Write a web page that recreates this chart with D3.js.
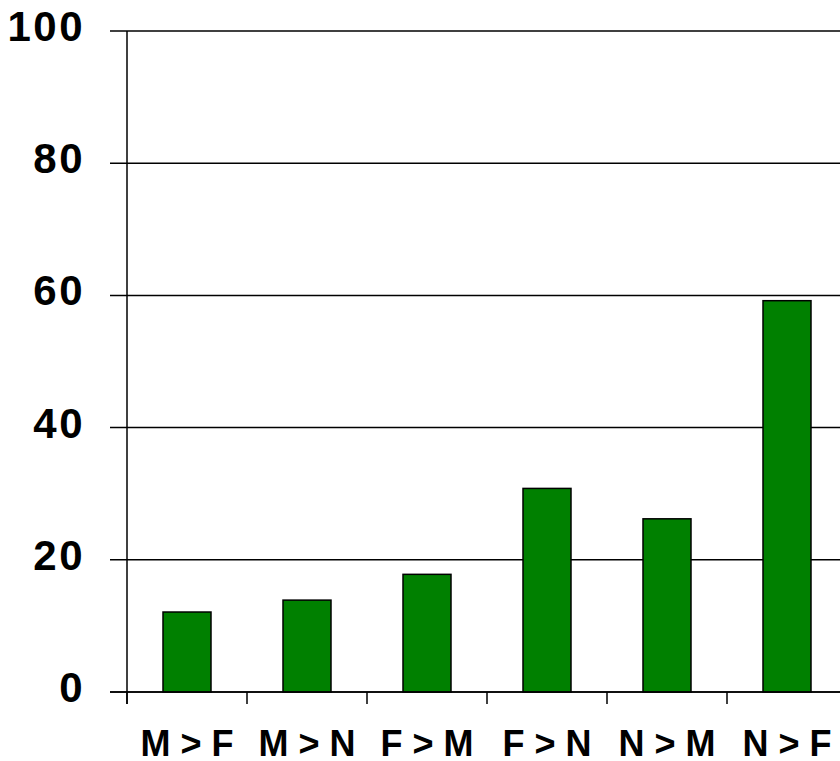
<!DOCTYPE html>
<html>
<head>
<meta charset="utf-8">
<script src="https://cdn.jsdelivr.net/npm/d3@7"></script>
<style>
  html, body { margin: 0; padding: 0; background: #fff; }
  svg { display: block; }
  text { font-family: "Liberation Sans", Arial, sans-serif; font-weight: bold; fill: #000; }
</style>
</head>
<body>
<script>
const categories = ["M > F", "M > N", "F > M", "F > N", "N > M", "N > F"];
const values = [12.1, 13.9, 17.8, 30.8, 26.2, 59.2];
const yTicks = [0, 20, 40, 60, 80, 100];

const W = 840, H = 761;
const svg = d3.select("body").append("svg").attr("width", W).attr("height", H);

const mLeft = 127, mRight = 847, mTop = 31, mBottom = 692;
const x = d3.scaleBand().domain(categories).range([mLeft, mRight]).padding(0);
const y = d3.scaleLinear().domain([0, 100]).range([mBottom, mTop]);

// gridlines with left tick extension
svg.append("g").selectAll("line").data(yTicks).join("line")
  .attr("x1", mLeft - 17).attr("x2", mRight)
  .attr("y1", d => y(d)).attr("y2", d => y(d))
  .attr("stroke", "#000").attr("stroke-width", 1.5);

// y labels
svg.append("g").selectAll("text").data(yTicks).join("text")
  .attr("x", 85).attr("y", d => y(d) + 10)
  .attr("text-anchor", "end")
  .style("font-size", "42px")
  .style("letter-spacing", "2.5px")
  .text(d => d);

// bars
const bw = x.bandwidth() * 0.4;
svg.append("g").selectAll("rect").data(values).join("rect")
  .attr("x", (d, i) => x(categories[i]) + x.bandwidth() / 2 - bw / 2)
  .attr("y", d => y(d))
  .attr("width", bw)
  .attr("height", d => y(0) - y(d))
  .attr("fill", "#008000")
  .attr("stroke", "#000").attr("stroke-width", 1.5);

// y axis line
svg.append("line")
  .attr("x1", mLeft).attr("x2", mLeft)
  .attr("y1", y(100)).attr("y2", mBottom + 12)
  .attr("stroke", "#000").attr("stroke-width", 1.5);

// x axis line
svg.append("line")
  .attr("x1", mLeft - 17).attr("x2", mRight)
  .attr("y1", mBottom).attr("y2", mBottom)
  .attr("stroke", "#000").attr("stroke-width", 1.5);

// x ticks at band boundaries
const bounds = categories.map(c => x(c)).concat([x(categories[categories.length - 1]) + x.bandwidth()]);
svg.append("g").selectAll("line").data(bounds).join("line")
  .attr("x1", d => d).attr("x2", d => d)
  .attr("y1", mBottom).attr("y2", mBottom + 12)
  .attr("stroke", "#000").attr("stroke-width", 1.5);

// x labels
svg.append("g").selectAll("text").data(categories).join("text")
  .attr("x", d => x(d) + x.bandwidth() / 2)
  .attr("y", 756)
  .attr("text-anchor", "middle")
  .style("font-size", "36px")
  .text(d => d);
</script>
</body>
</html>
